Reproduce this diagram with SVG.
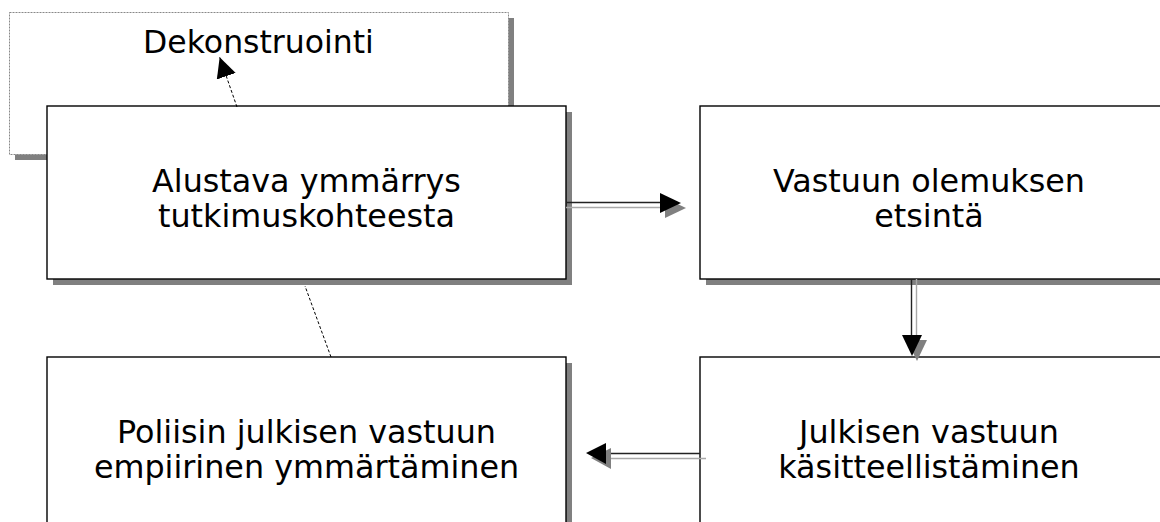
<svg xmlns="http://www.w3.org/2000/svg" width="1160" height="522" viewBox="0 0 1160 522">
<style>
.shadow{fill:#808080;stroke:none}
.box{fill:#fff;stroke:#000;stroke-width:1.4}
.dbox{fill:#fff;stroke:#888;stroke-width:1;stroke-dasharray:2 1}
.lbl{font-family:"DejaVu Sans",Verdana,sans-serif;font-size:31.8px;fill:#000;text-anchor:middle}
.dark{stroke:#222;stroke-width:1.4;fill:none}
.light{stroke:#a8a8a8;stroke-width:1.4;fill:none}
.head{fill:#000}
.hshadow{fill:#808080}
.dash{stroke:#000;stroke-width:1;stroke-dasharray:3 2;fill:none}
</style>
<defs>
<marker id="ah" viewBox="0 0 20 20" refX="20" refY="10" markerWidth="20" markerHeight="20" markerUnits="userSpaceOnUse" orient="auto">
<path d="M0,0 L20,10 L0,20 Z" fill="#000"/>
</marker>
</defs>
<rect width="1160" height="522" fill="#fff"/>
<g id="node-dekonstruointi">
<rect class="shadow" x="15" y="18" width="499" height="142"/>
<rect class="dbox" x="9.5" y="12.5" width="499" height="142"/>
<text class="lbl" x="258.5" y="52.5" style="font-size:31.5px">Dekonstruointi</text>
</g>
<g id="node-alustava">
<rect class="shadow" x="53" y="112" width="519" height="173"/>
<rect class="box" x="47" y="106" width="519" height="173"/>
<text class="lbl" x="306.5" y="192">Alustava ymmärrys</text>
<text class="lbl" x="306.5" y="227">tutkimuskohteesta</text>
</g>
<g id="node-vastuun">
<rect class="shadow" x="706" y="112" width="519" height="173"/>
<rect class="box" x="700" y="106" width="519" height="173"/>
<text class="lbl" x="929" y="192">Vastuun olemuksen</text>
<text class="lbl" x="929" y="227">etsintä</text>
</g>
<g id="node-julkisen">
<rect class="shadow" x="706" y="363" width="519" height="173"/>
<rect class="box" x="700" y="357" width="519" height="173"/>
<text class="lbl" x="929" y="443">Julkisen vastuun</text>
<text class="lbl" x="929" y="478">käsitteellistäminen</text>
</g>
<g id="node-poliisin">
<rect class="shadow" x="53" y="363" width="519" height="173"/>
<rect class="box" x="47" y="357" width="519" height="173"/>
<text class="lbl" x="306.5" y="443">Poliisin julkisen vastuun</text>
<text class="lbl" x="306.5" y="478">empiirinen ymmärtäminen</text>
</g>
<g id="connectors">
<g id="c-alustava-vastuun">
<line class="light" x1="566" y1="207.5" x2="662" y2="207.5"/>
<line class="dark" x1="566" y1="202.5" x2="662" y2="202.5"/>
<polygon class="hshadow" points="665,198 686,208 665,218"/>
<polygon class="head" points="660,193 681,203 660,213"/>
</g>
<g id="c-vastuun-julkisen">
<line class="light" x1="916.5" y1="279" x2="916.5" y2="337"/>
<line class="dark" x1="911.5" y1="279" x2="911.5" y2="337"/>
<polygon class="hshadow" points="907,340 927,340 917,361"/>
<polygon class="head" points="902,335 922,335 912,356"/>
</g>
<g id="c-julkisen-poliisin">
<line class="light" x1="706" y1="458.5" x2="607" y2="458.5"/>
<line class="dark" x1="700" y1="453.5" x2="604" y2="453.5"/>
<polygon class="hshadow" points="611,448 591,458 611,469"/>
<polygon class="head" points="606,443 586,453 606,464"/>
</g>
<path id="c-poliisin-dekonstruointi" class="dash" d="M331,357 L305,286 M237,107 L219.7,57.3" marker-end="url(#ah)"/>
</g>
</svg>
